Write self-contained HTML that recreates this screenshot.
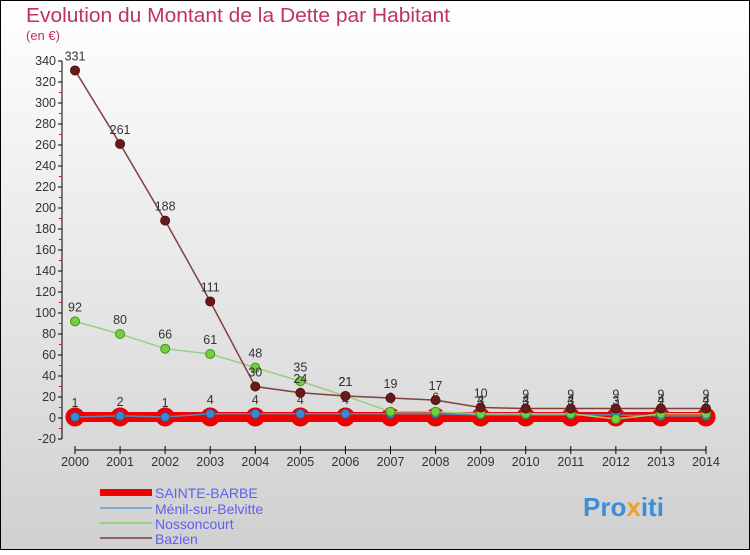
<!DOCTYPE html>
<html><head><meta charset="utf-8"><style>
body{margin:0;width:750px;height:550px;overflow:hidden;font-family:"Liberation Sans",sans-serif}
</style></head><body>
<svg width="750" height="550" xmlns="http://www.w3.org/2000/svg" font-family="Liberation Sans, sans-serif">
<defs><linearGradient id="bg" x1="0" y1="0" x2="0" y2="1"><stop offset="0" stop-color="#ffffff"/><stop offset="1" stop-color="#d0d0d0"/></linearGradient></defs>
<rect x="0.5" y="0.5" width="749" height="549" fill="url(#bg)" stroke="#000"/>
<text x="26" y="22" font-size="20" fill="#c0306a" textLength="424" lengthAdjust="spacingAndGlyphs">Evolution du Montant de la Dette par Habitant</text>
<text x="26" y="40" font-size="13" fill="#c0306a">(en €)</text>
<g id="axes"></g>
<g id="series"></g>
<g>
<rect x="100" y="489" width="52" height="7" fill="#f00000"/>
<text x="155" y="498" font-size="14" fill="#6060ee">SAINTE-BARBE</text>
<line x1="100" y1="508" x2="152" y2="508" stroke="#7aaad0" stroke-width="2"/>
<text x="155" y="514" font-size="14" fill="#6060ee">Ménil-sur-Belvitte</text>
<line x1="100" y1="523" x2="152" y2="523" stroke="#99d080" stroke-width="2"/>
<text x="155" y="529" font-size="14" fill="#6060ee">Nossoncourt</text>
<line x1="100" y1="538" x2="152" y2="538" stroke="#906060" stroke-width="2"/>
<text x="155" y="544" font-size="14" fill="#6060ee">Bazien</text>
</g>
<text x="583" y="516" font-size="26" font-weight="bold" fill="#3a8fd8">Pro<tspan fill="#f0a020">x</tspan>iti</text>
</svg>
<script>
const years=[2000,2001,2002,2003,2004,2005,2006,2007,2008,2009,2010,2011,2012,2013,2014];
const yTicks=[-20,0,20,40,60,80,100,120,140,160,180,200,220,240,260,280,300,320,340];
const sainte=[1,1,1,1,1,1,1,1,1,1,1,1,1,1,1];
const menil=[1,2,1,4,4,4,4,4,4,3,3,3,3,2,2];
const nosson=[92,80,66,61,48,35,21,6,6,4,4,4,-1,4,4];
const bazien=[331,261,188,111,30,24,21,19,17,10,9,9,9,9,9];
const NS="http://www.w3.org/2000/svg";
const xs=i=>75+i*(706-75)/(years.length-1);
const ys=v=>418-v*(418-61)/340;
function mk(tag,attrs,parent,txt){const e=document.createElementNS(NS,tag);for(const k in attrs)e.setAttribute(k,attrs[k]);if(txt!==undefined)e.textContent=txt;parent.appendChild(e);return e;}
const ax=document.getElementById('axes');
const yl=mk('line',{x1:62,y1:ys(340),x2:62,y2:ys(-20),stroke:'#000'},ax);


yTicks.forEach((v,k)=>{
 mk('line',{x1:58,y1:ys(v),x2:62,y2:ys(v),stroke:'#000'},ax);
 if(k<yTicks.length-1) mk('line',{x1:59,y1:ys(v+10),x2:62,y2:ys(v+10),stroke:'#f00'},ax);
 const t=mk('text',{x:56,y:ys(v)+4,'text-anchor':'end','font-size':12.5,fill:'#333'},ax,v);
 
 
});
const xl=mk('line',{x1:75,y1:450,x2:706,y2:450,stroke:'#000'},ax);


years.forEach((y,i)=>{
 mk('line',{x1:xs(i),y1:446,x2:xs(i),y2:454,stroke:'#000'},ax);
 const t=mk('text',{x:xs(i),y:466,'text-anchor':'middle','font-size':12.5,fill:'#333'},ax,y);
 
 
});
const sg=document.getElementById('series');
function series(name,data,color,w,r,fill,stroke,labels){
 const g=mk('g',{},sg);
 
 
 mk('polyline',{points:data.map((v,i)=>xs(i)+','+ys(v)).join(' '),fill:'none',stroke:color,'stroke-width':w},g);
 data.forEach((v,i)=>{
  const c=mk('circle',{cx:xs(i),cy:ys(v),r:r,fill:fill,stroke:stroke,'stroke-width':1},g);
  
  
  if(labels){const t=mk('text',{x:xs(i),y:ys(v)-10,'text-anchor':'middle','font-size':12.5,fill:'#333'},g,v);
   
   }
 });
}
series('sainte-barbe-series',sainte,'#f00000',10,9,'#f00000','#e00000',false);
series('menil-series',menil,'#5a8ab0',1.5,4.5,'#3a8ad0','#2a5a90',true);
series('nossoncourt-series',nosson,'#99d080',1.5,4.5,'#70d040','#4a9020',true);
series('bazien-series',bazien,'#804040',1.5,4.5,'#6a1a1a','#501010',true);
</script>
</body></html>
